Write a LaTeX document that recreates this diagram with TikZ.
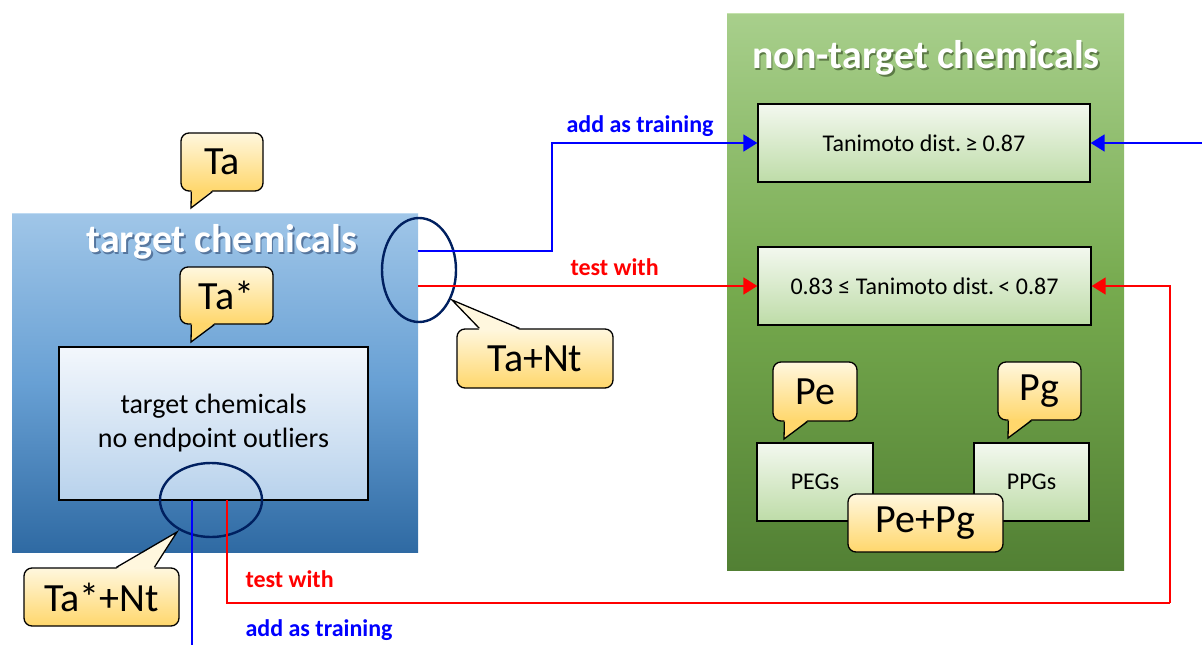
\documentclass[tikz,border=0pt]{standalone}
\usepackage{fontspec}
\setmainfont{Carlito}
\usetikzlibrary{arrows.meta,shapes.geometric}
\definecolor{bluetop}{RGB}{160,198,232}
\definecolor{bluemid}{RGB}{104,160,212}
\definecolor{bluebot}{RGB}{47,106,163}
\definecolor{blueedge}{RGB}{190,218,242}
\definecolor{innertop}{RGB}{243,247,252}
\definecolor{innerbot}{RGB}{184,210,236}
\definecolor{greentop}{RGB}{168,207,140}
\definecolor{greenmid}{RGB}{118,170,78}
\definecolor{greenbot}{RGB}{82,128,52}
\definecolor{greenedge}{RGB}{196,226,172}
\definecolor{gboxtop}{RGB}{243,248,239}
\definecolor{gboxbot}{RGB}{190,220,168}
\definecolor{calltop}{RGB}{255,247,222}
\definecolor{callbot}{RGB}{255,215,108}
\definecolor{ellcol}{RGB}{0,32,96}
\definecolor{lblue}{RGB}{0,0,255}
\definecolor{lred}{RGB}{255,0,0}
\definecolor{blueshade}{RGB}{86,118,158}
\definecolor{greenshade}{RGB}{92,122,70}
\newcommand\shtxt[2]{\makebox[0pt][l]{\hspace{1.8pt}\raisebox{-2.4pt}{\textcolor{#1}{#2}}}#2}
\tikzset{
  bigbox/.style={inner sep=0pt, draw=none},
  bluebox/.style={bigbox, top color=bluetop, bottom color=bluebot, middle color=bluemid},
  greenbox/.style={bigbox, top color=greentop, bottom color=greenbot, middle color=greenmid},
  innerbox/.style={draw=black, line width=1.3pt, inner sep=0pt, top color=innertop, bottom color=innerbot, font=\fontsize{28}{34}\selectfont, align=center},
  gbox/.style={draw=black, line width=1.3pt, inner sep=0pt, top color=gboxtop, bottom color=gboxbot, font=\fontsize{24}{28}\selectfont, align=center},
  callbox/.style={draw=black, line width=1.3pt, rounded corners=8pt, inner sep=0pt, top color=calltop, bottom color=callbot, font=\fontsize{40}{44}\selectfont},
  pointerline/.style={draw=black, line width=1.3pt, line join=miter},
  titletext/.style={text=white, font=\fontsize{40}{44}\selectfont\bfseries, anchor=base},
  ringstyle/.style={ellipse, draw=ellcol, line width=2.4pt, inner sep=0pt, fill=none},
  bluelink/.style={draw=lblue, line width=1.8pt, -{Triangle[length=14pt,width=17pt]}},
  redlink/.style={draw=lred, line width=1.8pt, -{Triangle[length=14pt,width=17pt]}},
  bluewire/.style={draw=lblue, line width=1.8pt},
  redwire/.style={draw=lred, line width=1.8pt},
  bluelabel/.style={text=lblue, font=\fontsize{24}{28}\selectfont\bfseries, anchor=base west},
  redlabel/.style={text=lred, font=\fontsize{24}{28}\selectfont\bfseries, anchor=base west},
}
\begin{document}
\begin{tikzpicture}[x=1pt,y=-1pt]
\useasboundingbox (0,0) rectangle (1202,645);
\fill[white] (0,0) rectangle (1202,645);

% big boxes
\node[bluebox, minimum width=406pt, minimum height=339pt] (target) at (215,382.5) {};
\draw[blueedge, line width=1.5pt] ([yshift=-0.75pt]target.north west) -- ([yshift=-0.75pt]target.north east);
\node[greenbox, minimum width=397pt, minimum height=557pt] (nontarget) at (925.5,291.5) {};
\draw[greenedge, line width=1.5pt] ([yshift=-0.75pt]nontarget.north west) -- ([yshift=-0.75pt]nontarget.north east);

% titles
\node[titletext] (ttitle) at (222,252) {\shtxt{blueshade}{target chemicals}};
\node[titletext] (ntitle) at (926,68) {\shtxt{greenshade}{non-target chemicals}};

% inner boxes
\node[innerbox, minimum width=309pt, minimum height=153pt] (inner) at (213.5,423.5) {target chemicals\\no endpoint outliers};
\node[gbox, minimum width=332pt, minimum height=78pt] (far) at (924,143) {Tanimoto dist.\kern-3pt{} ≥ 0.87};
\node[gbox, minimum width=333pt, minimum height=78pt] (mid) at (924.5,286) {0.83 ≤ Tanimoto dist.\kern-3pt{} < 0.87};
\node[gbox, minimum width=116pt, minimum height=78pt] (peg) at (815,482) {PEGs};
\node[gbox, minimum width=115pt, minimum height=78pt] (ppg) at (1031.5,482) {PPGs};

% rings
\node[ringstyle, minimum width=74pt, minimum height=104pt] (ringR) at (419,270) {};
\node[ringstyle, minimum width=102pt, minimum height=74pt] (ringB) at (211,500) {};

% callouts
\node[callbox, minimum width=82pt, minimum height=58pt] (cTa) at (222,162) {Ta};
\fill[callbot] ([xshift=11pt,yshift=1.5pt]cTa.south west) -- (191,208) -- ([xshift=32pt,yshift=1.5pt]cTa.south west) -- cycle;
\draw[pointerline] ([xshift=11pt]cTa.south west) -- (191,208) -- ([xshift=32pt]cTa.south west);

\node[callbox, minimum width=93pt, minimum height=57pt] (cTas) at (226.5,295.5) {Ta*};
\fill[callbot] ([xshift=12pt,yshift=1.5pt]cTas.south west) -- (191,342) -- ([xshift=35pt,yshift=1.5pt]cTas.south west) -- cycle;
\draw[pointerline] ([xshift=12pt]cTas.south west) -- (191,342) -- ([xshift=35pt]cTas.south west);

\node[callbox, minimum width=155pt, minimum height=58pt] (cTasNt) at (101.5,597) {Ta*+Nt};
\fill[calltop] ([xshift=93pt,yshift=-1.5pt]cTasNt.north west) -- (177,532) -- ([xshift=131pt,yshift=-1.5pt]cTasNt.north west) -- cycle;
\draw[pointerline] ([xshift=93pt]cTasNt.north west) -- (177,532) -- ([xshift=131pt]cTasNt.north west);

\node[callbox, minimum width=156pt, minimum height=59pt] (cTaNt) at (535,358.5) {Ta+Nt};
\fill[calltop] ([xshift=23pt,yshift=-1.5pt]cTaNt.north west) -- (452,300) -- ([xshift=63pt,yshift=-1.5pt]cTaNt.north west) -- cycle;
\draw[pointerline] ([xshift=23pt]cTaNt.north west) -- (452,300) -- ([xshift=63pt]cTaNt.north west);

\node[callbox, minimum width=84pt, minimum height=59pt] (cPe) at (815,391.5) {Pe};
\fill[callbot] ([xshift=12pt,yshift=1.5pt]cPe.south west) -- (784,439) -- ([xshift=35pt,yshift=1.5pt]cPe.south west) -- cycle;
\draw[pointerline] ([xshift=12pt]cPe.south west) -- (784,439) -- ([xshift=35pt]cPe.south west);

\node[callbox, minimum width=83pt, minimum height=58pt] (cPg) at (1039.5,391) {Pg};
\fill[callbot] ([xshift=11pt,yshift=1.5pt]cPg.south west) -- (1008,438) -- ([xshift=34pt,yshift=1.5pt]cPg.south west) -- cycle;
\draw[pointerline] ([xshift=11pt]cPg.south west) -- (1008,438) -- ([xshift=34pt]cPg.south west);

\node[callbox, minimum width=155pt, minimum height=58pt] (cPePg) at (925.5,523) {Pe+Pg};

% connectors
\coordinate (bstart) at (418,251);
\coordinate (bbend) at (552,143);
\coordinate (rstart) at (418,286);
\coordinate (bright) at (1202,143);
\coordinate (rbstart) at (227,500);
\coordinate (rbcorner) at (1170,603);
\coordinate (bbstart) at (192,500);
\coordinate (bbend2) at (192,645);

\draw[bluelink] (bstart) -| (bbend) -- (far.west);
\draw[redlink] (rstart) -- (mid.west);
\draw[bluelink] (bright) -- (far.east);
\draw[redwire] (rbstart) |- (rbcorner);
\draw[redlink] (rbcorner) |- (mid.east);
\draw[bluewire] (bbstart) -- (bbend2);

% labels
\node[bluelabel] (lab1) at (563,132) {add as training};
\node[redlabel] (lab2) at (567,275) {test with};
\node[redlabel] (lab3) at (242,587) {test with};
\node[bluelabel] (lab4) at (242,636) {add as training};
\end{tikzpicture}
\end{document}
